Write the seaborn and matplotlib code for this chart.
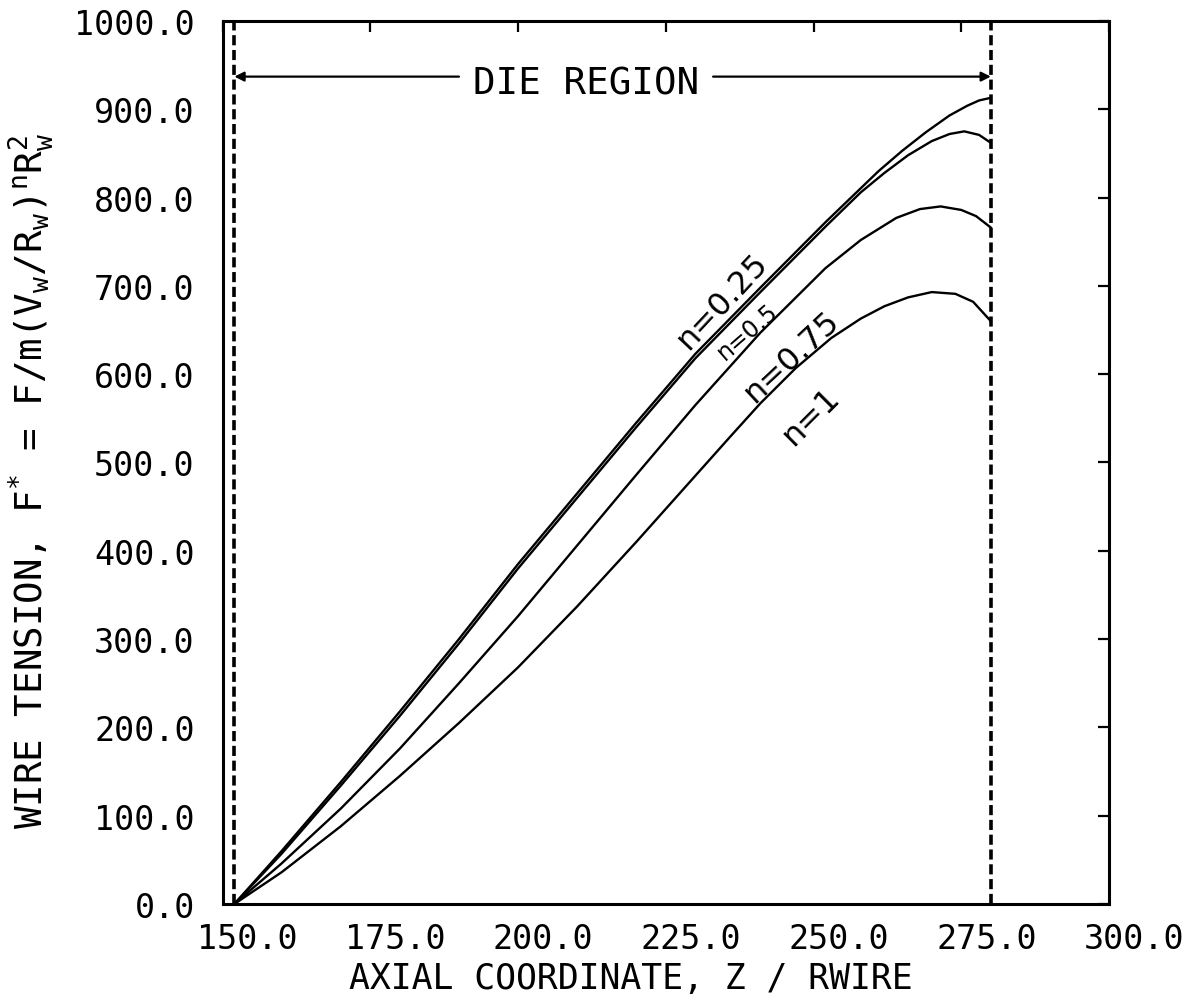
import numpy as np
import pandas as pd
import matplotlib
matplotlib.use("Agg")
import matplotlib.pyplot as plt
import matplotlib.transforms as mtransforms
import seaborn as sns

# ---------------- data ----------------
z_n025 = [152, 160, 170, 180, 190, 200, 210, 220, 230, 241, 252, 261, 265, 269, 273, 276, 278, 280]
F_n025 = [0, 60, 138, 218, 300, 385, 465, 545, 623, 698, 772, 830, 853, 874, 893, 904, 910, 913]

z_n05 = [152, 160, 170, 180, 190, 200, 210, 220, 230, 241, 252, 258, 262, 266, 270, 273, 275.5, 278, 280]
F_n05 = [0, 57, 134, 213, 295, 380, 460, 540, 618, 693, 767, 806, 828, 848, 864, 872, 875, 871, 862]

z_n075 = [152, 160, 170, 180, 190, 200, 210, 220, 230, 241, 252, 258, 264, 268, 271.5, 275, 277.5, 280]
F_n075 = [0, 46, 108, 176, 250, 326, 406, 486, 565, 647, 720, 752, 777, 787, 790, 786, 779, 766]

z_n1 = [152, 160, 170, 180, 190, 200, 210, 220, 230, 236, 241, 247, 253, 258, 262, 266, 270, 274, 277, 280]
F_n1 = [0, 36, 88, 145, 205, 268, 337, 410, 485, 530, 567, 607, 641, 663, 677, 687, 693, 691, 682, 660]

series_names = ["n=0.25", "n=0.5", "n=0.75", "n=1"]
die_start = 152
die_end = 280
x_ticks = [150, 175, 200, 225, 250, 275, 300]
y_ticks = [0, 100, 200, 300, 400, 500, 600, 700, 800, 900, 1000]

# label placement (data coords) and rotation
label_z = [234.5, 238.8, 246.2, 249.5]
label_F = [683, 649, 620, 553]
label_rot = [47, 41, 43, 45]
label_size = [23, 17, 23, 23]

# ---------------- build table ----------------
frames = []
for name, zz, ff in zip(series_names, [z_n025, z_n05, z_n075, z_n1],
                        [F_n025, F_n05, F_n075, F_n1]):
    frames.append(pd.DataFrame({"z": zz, "F": ff, "n": name}))
df = pd.concat(frames, ignore_index=True)

# ---------------- style ----------------
sns.set_style("white")
plt.rcParams["font.family"] = ["DejaVu Sans Mono", "DejaVu Sans"]
plt.rcParams["mathtext.fontset"] = "custom"
plt.rcParams["mathtext.rm"] = "DejaVu Sans Mono"
plt.rcParams["mathtext.it"] = "DejaVu Sans Mono"
plt.rcParams["mathtext.bf"] = "DejaVu Sans Mono"

fig = plt.figure(figsize=(11.9, 10.04), dpi=100)
ax = fig.add_axes([0.187, 0.0986, 0.745, 0.8795])

sns.lineplot(data=df, x="z", y="F", hue="n", units="n", estimator=None,
             sort=False, palette=["black"] * 4, legend=False,
             linewidth=1.7, ax=ax)

# die region boundaries
for zb in (die_start, die_end):
    ax.axvline(zb, color="black", linewidth=2.6, linestyle=(0, (2.8, 1.3)))

ax.set_xlim(150, 300)
ax.set_ylim(0, 1000)
ax.set_xticks(x_ticks)
ax.set_xticklabels([f"{v:.1f}" for v in x_ticks])
ax.set_yticks(y_ticks)
ax.set_yticklabels([f"{v:.1f}" for v in y_ticks])

ax.tick_params(axis="both", direction="in", length=8, width=1.6,
               top=True, right=True, labelsize=24, colors="black")
ax.tick_params(axis="x", pad=13)
ax.tick_params(axis="y", pad=20)
for sp in ax.spines.values():
    sp.set_visible(True)
    sp.set_color("black")
    sp.set_linewidth(2.2)

# shift x tick labels to the right like the reference
offset = mtransforms.ScaledTranslation(0.25, 0, fig.dpi_scale_trans)
for lab in ax.get_xticklabels():
    lab.set_transform(lab.get_transform() + offset)

ax.set_xlabel("AXIAL COORDINATE, Z / RWIRE", fontsize=25, color="black")
ax.xaxis.set_label_coords(0.46, -0.064)
ax.set_ylabel(r"WIRE TENSION, F$^{*}$ = F/m(V$_w$/R$_w$)$^n$R$_w^2$",
              fontsize=27, color="black")
ax.yaxis.set_label_coords(-0.188, 0.48)

# DIE REGION annotation
arrow_F = 937
text_z = 211.5
ax.text(text_z, arrow_F - 8, "DIE REGION", fontsize=27, ha="center",
        va="center", color="black",
        family=["DejaVu Sans Mono"])
ax.annotate("", xy=(die_start, arrow_F), xytext=(190.0, arrow_F),
            arrowprops=dict(arrowstyle="-|>", color="black", lw=1.6,
                            mutation_scale=14, shrinkA=0, shrinkB=0))
ax.annotate("", xy=(die_end, arrow_F), xytext=(233.0, arrow_F),
            arrowprops=dict(arrowstyle="-|>", color="black", lw=1.6,
                            mutation_scale=14, shrinkA=0, shrinkB=0))

# curve labels
for name, zz, ff, rot, fs in zip(series_names, label_z, label_F, label_rot, label_size):
    ax.text(zz, ff, name, rotation=rot, rotation_mode="anchor",
            ha="center", va="center", fontsize=fs, color="black",
            family=["DejaVu Sans"])

fig.savefig("out.png", dpi=100, facecolor="white")
